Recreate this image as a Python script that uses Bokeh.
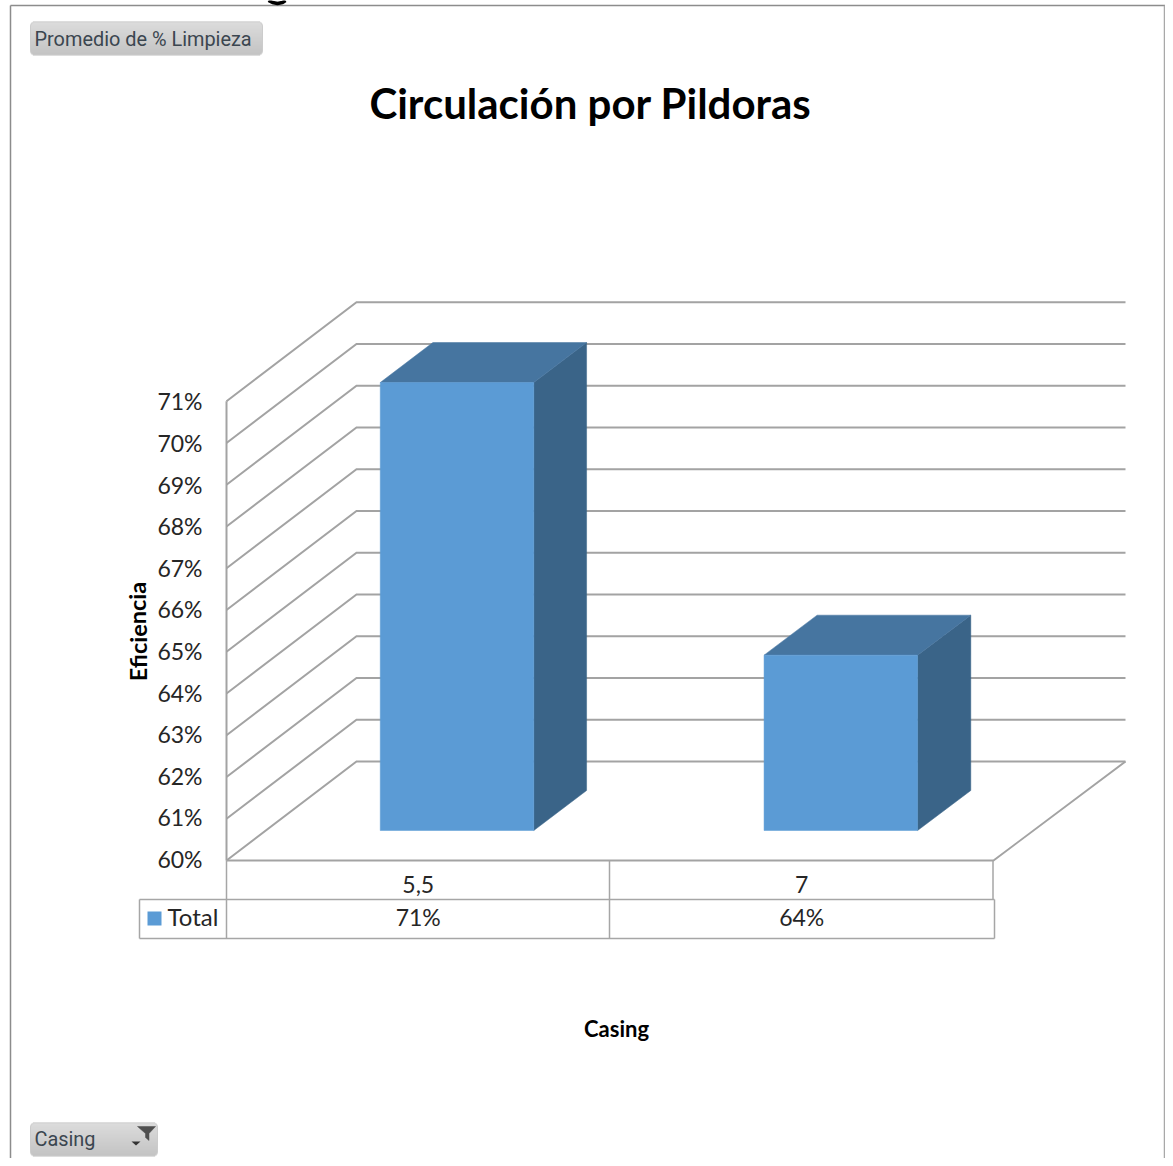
from bokeh.plotting import figure
from bokeh.embed import file_html
from bokeh.resources import INLINE
from bokeh.core.properties import value

# ---- data ----
categories = ["5,5", "7"]
bar_values = [70.73, 64.2]
table_labels = ["71%", "64%"]
tick_values = [60, 61, 62, 63, 64, 65, 66, 67, 68, 69, 70, 71]
tick_labels = ["60%", "61%", "62%", "63%", "64%", "65%", "66%", "67%", "68%", "69%", "70%", "71%"]
series_name = "Total"
title_text = "Circulación por Pildoras"
x_title = "Casing"
y_title = "Eficiencia"
measure_button = "Promedio de % Limpieza"
filter_button = "Casing"

# ---- layout ----
W, H = 1165, 1158
X0, UX = 226.0, 383.5        # px of category 0 and px per category
Y60, UY = 860.0, 41.75       # px of 60 % and px per 1 %
DX, DY = 130.0, 99.0         # depth vector in px
DX_GROW = 1.0                # slight widening of the depth vector per category

x_range = ((0 - X0) / UX, (W - X0) / UX)
y_range = (60 - (H - Y60) / UY, 60 + Y60 / UY)

p = figure(width=W, height=H, x_range=x_range, y_range=y_range,
           output_backend="svg", toolbar_location=None, min_border=0,
           background_fill_color="white", border_fill_color="white")
p.xaxis.visible = False
p.yaxis.visible = False
p.grid.visible = False
p.outline_line_color = None


def px(x):  # canvas px -> data x
    return (x - X0) / UX


def py(y):  # canvas px -> data y
    return 60 + (Y60 - y) / UY


def proj(c, v, d):  # oblique projection of category, value, depth
    return c + d * (DX + DX_GROW * c) / UX, v + d * DY / UY


GRID = "#a3a3a3"
FRAME = "#8c8c8c"
TXT = "#262626"
FONT = value("Lato")

# outer frame
p.line([px(10), px(10)], [py(5), py(H)], line_color=FRAME, line_width=1.5)
p.line([px(10), px(W)], [py(5), py(5)], line_color=FRAME, line_width=1.5)
p.line([px(W - 1), px(W - 1)], [py(5), py(H)], line_color="#a8a8a8", line_width=1.5)

# tail of the cropped text above the chart frame
p.line([px(a) for a in (268, 272, 277, 282, 285)], [py(b) for b in (0, 2, 3, 2, 0)],
       line_color="black", line_width=3.5)

# back wall gridlines + side wall diagonals
n_cat = len(categories)
for v in tick_values:
    xa, ya = proj(0, v, 0)
    xb, yb = proj(0, v, 1)
    xc, yc = proj(n_cat, v, 1)
    p.line([xa, xb, xc], [ya, yb, yc], line_color=GRID, line_width=2, line_join="miter")

# axis wall vertical, floor front and right diagonal
p.line([0, 0], [tick_values[0], tick_values[-1]], line_color=GRID, line_width=2)
xr, yr = proj(n_cat, tick_values[0], 1)
p.line([0, n_cat, xr], [tick_values[0], tick_values[0], yr], line_color=GRID, line_width=2)

# 3D bars
BW, D0, D1, BC = 0.4, 0.303, 0.707, 0.498
for i, val in enumerate(bar_values):
    c0, c1 = i + BC - BW / 2, i + BC + BW / 2
    base = tick_values[0]
    fl, fb = proj(c0, base, D0)
    fr, _ = proj(c1, base, D0)
    _, ft = proj(c0, val, D0)
    bl, bb = proj(c0, base, D1)
    br, _ = proj(c1, base, D1)
    _, bt = proj(c0, val, D1)
    p.patch([fr, br, br, fr], [fb, bb, bt, ft], fill_color="#3a6488", line_color="#3a6488", line_width=0.5)
    p.patch([fl, fr, br, bl], [ft, ft, bt, bt], fill_color="#4675a0", line_color="#4675a0", line_width=0.5)
    p.quad(left=fl, right=fr, bottom=fb, top=ft, fill_color="#5b9bd5", line_color="#5b9bd5", line_width=0.5)

# y tick labels (their column is set slightly tighter than the gridlines)
p.text(x=[px(202)] * len(tick_values), y=[py(858.5 - 41.6 * (v - tick_values[0])) for v in tick_values],
       text=tick_labels, text_align="right",
       text_baseline="middle", text_font=FONT, text_font_size="23px", text_color=TXT)

# data table
tl = "#a6a6a6"
for xs, ys in [([226, 226], [860, 938]), ([609, 609], [860, 938]), ([992.5, 992.5], [860, 899]),
               ([994, 994], [899, 938]), ([139, 139], [899, 938]),
               ([139, 994], [899, 899]), ([139, 994], [938, 938])]:
    p.line([px(a) for a in xs], [py(b) for b in ys], line_color=tl, line_width=1.5)
cx = [i + 0.5 for i in range(n_cat)]
p.text(x=cx, y=[py(884)] * n_cat, text=categories, text_align="center", text_baseline="middle",
       text_font=FONT, text_font_size="23px", text_color=TXT)
p.text(x=cx, y=[py(916)] * n_cat, text=table_labels, text_align="center", text_baseline="middle",
       text_font=FONT, text_font_size="23px", text_color=TXT)
p.quad(left=px(147), right=px(161), bottom=py(925), top=py(911), fill_color="#5b9bd5", line_color=None)
p.text(x=[px(167)], y=[py(916)], text=[series_name], text_align="left", text_baseline="middle",
       text_font=FONT, text_font_size="24px", text_color=TXT)

# titles
p.text(x=[px(590)], y=[py(102)], text=[title_text], text_align="center", text_baseline="middle",
       text_font=FONT, text_font_size="42px", text_font_style="bold", text_color="black")
p.text(x=[px(616)], y=[py(1028)], text=[x_title], text_align="center", text_baseline="middle",
       text_font=FONT, text_font_size="22px", text_font_style="bold", text_color="black")
p.text(x=[px(137)], y=[py(631)], text=[y_title], angle=1.5708, text_align="center", text_baseline="middle",
       text_font=FONT, text_font_size="23.5px", text_font_style="bold", text_color="black")


# pivot-field buttons
def rounded_rows(x0, x1, y0, y1, r, colour_of):
    n = int(y1 - y0)
    for k in range(n):
        dy = min(k + 0.5, n - k - 0.5)
        inset = r - (r * r - (r - dy) ** 2) ** 0.5 if dy < r else 0
        p.quad(left=px(x0 + inset), right=px(x1 - inset), top=py(y0 + k), bottom=py(y0 + k + 1),
               fill_color=colour_of(k / (n - 1)), line_color=None)


def shade(t):
    s = int(224 - 30 * t)
    return f"#{s:02x}{s:02x}{s:02x}"


def button(x0, x1, y0, y1):
    rounded_rows(x0, x1, y0, y1, 5, lambda t: "#bcbcbc")
    rounded_rows(x0 + 1, x1 - 1, y0 + 1, y1 - 1, 4, shade)


button(29.5, 262.5, 21, 55)
button(29.5, 157.5, 1122, 1156)
p.text(x=[px(34)], y=[py(38.5)], text=[measure_button], text_align="left", text_baseline="middle",
       text_font=value("Roboto"), text_font_size="19.9px", text_color="#3b4650")
p.text(x=[px(34)], y=[py(1139)], text=[filter_button], text_align="left", text_baseline="middle",
       text_font=value("Roboto"), text_font_size="19.9px", text_color="#3b4650")
# funnel and dropdown icons
p.patch([px(a) for a in (137, 155, 148.5, 148.5, 145, 145)],
        [py(b) for b in (1126, 1126, 1133, 1140, 1137, 1133)],
        fill_color="#4f4f4f", line_color="#4f4f4f", line_width=0.5)
p.patch([px(a) for a in (131, 140, 135.5)], [py(b) for b in (1141, 1141, 1145)],
        fill_color="#333333", line_color=None)

open("out.html", "w").write(file_html(p, INLINE))
